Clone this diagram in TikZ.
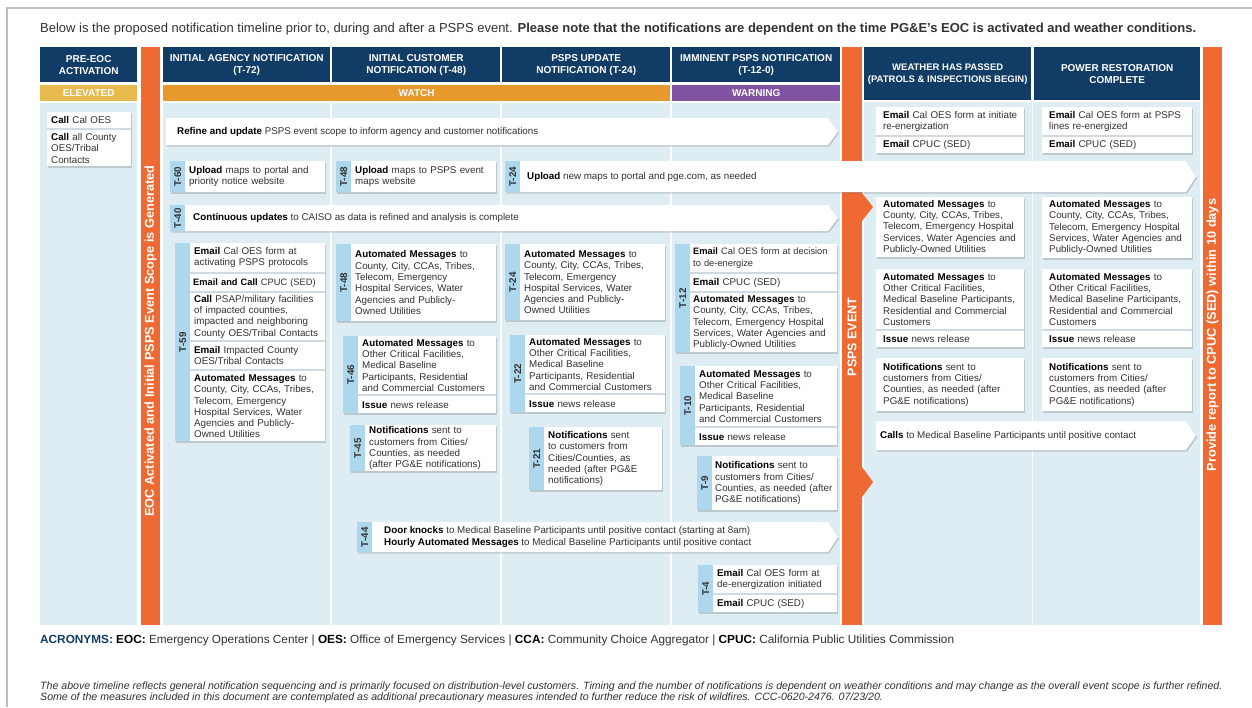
\documentclass[tikz,border=0pt]{standalone}
\usepackage{fontspec}
\setmainfont{Liberation Sans}
\usetikzlibrary{shadows}
\definecolor{blunotte}{RGB}{17,60,102}
\definecolor{arancio}{RGB}{238,106,50}
\definecolor{oro}{RGB}{232,186,78}
\definecolor{ambra}{RGB}{231,153,45}
\definecolor{viola}{RGB}{128,82,162}
\definecolor{celeste}{RGB}{222,237,243}
\definecolor{linguetta}{RGB}{172,215,236}
\definecolor{grigio}{RGB}{208,218,224}
\definecolor{testo}{RGB}{50,50,50}
\newcommand{\corpo}{\fontsize{9.8}{11.3}\selectfont}
\newcommand{\corpino}{\fontsize{9.3}{11.3}\selectfont}
\newcommand{\nero}[1]{\textbf{\color{black}#1}}
%linguetta: nome, x, y, altezza, etichetta
\newcommand{\linguetta}[5]{%
  \node[tab,minimum height=#4pt] (t#1) at (#2,#3) {};
  \node[etic] (e#1) at (t#1.center) {#5};}
%gruppo con linguetta: nome, x, y, larghezza, altezza, etichetta
\newcommand{\blocco}[6]{%
  \node[gruppo,minimum width=#4pt,minimum height=#5pt] (g#1) at (#2,#3) {};
  \linguetta{#1}{#2}{#3}{#5}{#6}}
\begin{document}
\begin{tikzpicture}[x=1pt,y=-1pt,
  ombra/.style={drop shadow={shadow xshift=1.2pt,shadow yshift=-1.5pt,opacity=.3,fill=black!55}},
  testa/.style={fill=blunotte,text=white,font=\bfseries\fontsize{10}{12}\selectfont,align=center,anchor=north west,inner sep=0pt},
  fascia/.style={text=white,font=\bfseries\fontsize{10}{12}\selectfont,anchor=north west,inner sep=0pt,minimum height=16pt},
  barratesto/.style={rotate=90,text=white,font=\bfseries\fontsize{12.8}{14}\selectfont},
  gruppo/.style={fill=grigio,anchor=north west,inner sep=0pt,ombra},
  voce/.style={fill=white,anchor=north west,inner xsep=4pt,inner ysep=1pt,align=left,text=testo,font=\corpo},
  tab/.style={fill=linguetta,anchor=north west,inner sep=0pt,minimum width=15pt},
  etic/.style={rotate=90,font=\bfseries\fontsize{9.8}{11}\selectfont,text=testo},
  freccia/.style={fill=white,ombra},
  riga/.style={anchor=west,inner sep=0pt,align=left,text=testo,font=\corpo}]
\useasboundingbox (0,0) rectangle (1252,707);
\fill[white] (0,0) rectangle (1252,707);
%cornice
\draw[black!25,line width=1.5pt] (7,707) -- (7,8) -- (1252,8);
%titolo
\node[anchor=west,inner sep=0pt,font=\fontsize{13}{15}\selectfont,text=testo] (titolo) at (40,29) {Below is the proposed notification timeline prior to, during and after a PSPS event. \textbf{Please note that the notifications are dependent on the time PG\&E's EOC is activated and weather conditions.}};

%intestazioni
\node[testa,minimum width=97pt,minimum height=35pt] (hpre) at (40,47) {PRE-EOC\\ACTIVATION};
\node[testa,minimum width=167pt,minimum height=35pt] (h72) at (163,47) {INITIAL AGENCY NOTIFICATION\\(T-72)};
\node[testa,minimum width=168pt,minimum height=35pt] (h48) at (332,47) {INITIAL CUSTOMER\\NOTIFICATION (T-48)};
\node[testa,minimum width=168pt,minimum height=35pt] (h24) at (502,47) {PSPS UPDATE\\NOTIFICATION (T-24)};
\node[testa,minimum width=168pt,minimum height=35pt] (h12) at (672,47) {IMMINENT PSPS NOTIFICATION\\(T-12-0)};
\node[testa,font=\bfseries\fontsize{9.5}{12}\selectfont,minimum width=167pt,minimum height=53pt] (hmeteo) at (864,47) {WEATHER HAS PASSED\\(PATROLS \& INSPECTIONS BEGIN)};
\node[testa,minimum width=166pt,minimum height=53pt] (hrip) at (1034,47) {POWER RESTORATION\\COMPLETE};
%fasce di allerta
\node[fascia,fill=oro,minimum width=97pt] (elev) at (40,85) {ELEVATED};
\node[fascia,fill=ambra,minimum width=507pt] (watch) at (163,85) {WATCH};
\node[fascia,fill=viola,minimum width=168pt] (warn) at (672,85) {WARNING};

%sfondo colonne
\fill[celeste] (40,103) rectangle (137,625);
\fill[celeste] (163,103) rectangle (840,625);
\fill[celeste] (864,102) rectangle (1200,625);
\foreach \x in {331,501,671} \draw[white,line width=1.5pt] (\x,103) -- (\x,625);
\draw[white,line width=1.5pt] (1032.5,102) -- (1032.5,625);

%barre arancioni
\fill[arancio] (141,47) rectangle (160,625);
\fill[arancio] (842,47) rectangle (862,625);
\fill[arancio] (862,193) -- (873,207) -- (862,221) -- cycle;
\fill[arancio] (862,467) -- (873,482) -- (862,497) -- cycle;
\fill[arancio] (1203,47) rectangle (1222,625);
\node[barratesto] (eoc) at (150.5,341) {EOC Activated and Initial PSPS Event Scope is Generated};
\node[barratesto,font=\bfseries\fontsize{12.5}{14}\selectfont] (evento) at (852,337) {PSPS EVENT};
\node[barratesto] (report) at (1212.5,335) {Provide report to CPUC (SED) within 10 days};

%colonna pre-EOC
\node[gruppo,minimum width=84pt,minimum height=54pt] (gpre) at (47,112) {};
\node[voce,text width=76pt,minimum height=16pt] (pre1) at (47,112) {\nero{Call} Cal OES};
\node[voce,text width=76pt,minimum height=36pt] (pre2) at (47,130) {\nero{Call} all County\\OES/Tribal\\Contacts};

%frecce lunghe
\path[freccia] (166,118) -- (828,118) -- (838,131.5) -- (828,145) -- (166,145) -- cycle;
\node[riga] (scope) at (177,131.5) {\nero{Refine and update} PSPS event scope to inform agency and customer notifications};
\path[freccia] (170,205) -- (828,205) -- (838,218) -- (828,231) -- (170,231) -- cycle;
\linguetta{40}{170}{205}{26}{T-40}
\node[riga] (caiso) at (193,218) {\nero{Continuous updates} to CAISO as data is refined and analysis is complete};
\path[freccia] (505,161) -- (1186,161) -- (1196,176.5) -- (1186,192) -- (505,192) -- cycle;
\linguetta{u24}{505}{161}{31}{T-24}
\node[riga] (mappe24) at (527,176.5) {\nero{Upload} new maps to portal and pge.com, as needed};
\path[freccia] (357,522) -- (828,522) -- (838,537) -- (828,552) -- (357,552) -- cycle;
\linguetta{44}{357}{522}{30}{T-44}
\node[riga] (porte) at (384,537) {\nero{Door knocks} to Medical Baseline Participants until positive contact (starting at 8am)\\\nero{Hourly Automated Messages} to Medical Baseline Participants until positive contact};
\path[freccia] (876,421) -- (1186,421) -- (1196,435.5) -- (1186,450) -- (876,450) -- cycle;
\node[riga] (chiamate) at (880,435.5) {\nero{Calls} to Medical Baseline Participants until positive contact};

%caricamento mappe
\blocco{60}{170}{161}{155}{31}{T-60}
\node[voce,text width=132pt,minimum height=31pt] (m60) at (185,161) {\nero{Upload} maps to portal and\\priority notice website};
\blocco{u48}{336}{161}{160}{31}{T-48}
\node[voce,text width=137pt,minimum height=31pt] (mu48) at (351,161) {\nero{Upload} maps to PSPS event\\maps website};

%colonna T-72
\blocco{59}{175}{243}{150}{198}{T-59}
\node[voce,text width=127pt,minimum height=29pt] (m59a) at (190,243) {\nero{Email} Cal OES form at\\activating PSPS protocols};
\node[voce,inner xsep=3pt,text width=129pt,minimum height=17pt,font=\corpino] (m59b) at (190,274) {\nero{Email and Call} CPUC (SED)};
\node[voce,text width=127pt,minimum height=47pt] (m59c) at (190,293) {\nero{Call} PSAP/military facilities\\of impacted counties,\\impacted and neighboring\\County OES/Tribal Contacts};
\node[voce,text width=127pt,minimum height=27pt] (m59d) at (190,342) {\nero{Email} Impacted County\\OES/Tribal Contacts};
\node[voce,text width=127pt,minimum height=70pt] (m59e) at (190,371) {\nero{Automated Messages} to\\County, City, CCAs, Tribes,\\Telecom, Emergency\\Hospital Services, Water\\Agencies and Publicly-\\Owned Utilities};

%colonna T-48
\blocco{a48}{336}{244}{160}{77}{T-48}
\node[voce,text width=137pt,minimum height=77pt] (ma48) at (351,244) {\nero{Automated Messages} to\\County, City, CCAs, Tribes,\\Telecom, Emergency\\Hospital Services, Water\\Agencies and Publicly-\\Owned Utilities};
\blocco{46}{343}{336}{153}{77}{T-46}
\node[voce,text width=130pt,minimum height=58pt] (m46a) at (358,336) {\nero{Automated Messages} to\\Other Critical Facilities,\\Medical Baseline\\Participants, Residential\\and Commercial Customers};
\node[voce,text width=130pt,minimum height=17pt] (m46b) at (358,396) {\nero{Issue} news release};
\blocco{45}{350}{425}{146}{46}{T-45}
\node[voce,text width=123pt,minimum height=46pt] (m45) at (365,425) {\nero{Notifications} sent to\\customers from Cities/\\Counties, as needed\\(after PG\&E notifications)};

%colonna T-24
\blocco{a24}{505}{244}{160}{76}{T-24}
\node[voce,text width=137pt,minimum height=76pt] (ma24) at (520,244) {\nero{Automated Messages} to\\County, City, CCAs, Tribes,\\Telecom, Emergency\\Hospital Services, Water\\Agencies and Publicly-\\Owned Utilities};
\blocco{22}{510}{335}{155}{77}{T-22}
\node[voce,text width=132pt,minimum height=58pt] (m22a) at (525,335) {\nero{Automated Messages} to\\Other Critical Facilities,\\Medical Baseline\\Participants, Residential\\and Commercial Customers};
\node[voce,text width=132pt,minimum height=17pt] (m22b) at (525,395) {\nero{Issue} news release};
\blocco{21}{529}{427}{133}{63}{T-21}
\node[voce,text width=110pt,minimum height=63pt] (m21) at (544,427) {\nero{Notifications} sent\\to customers from\\Cities/Counties, as\\needed (after PG\&E\\notifications)};

%colonna T-12
\blocco{12}{675}{244}{162}{108}{T-12}
\node[voce,inner xsep=3pt,text width=141pt,minimum height=28pt,font=\corpino] (m12a) at (690,244) {\nero{Email} Cal OES form at decision\\to de-energize};
\node[voce,inner xsep=3pt,text width=141pt,minimum height=17pt] (m12b) at (690,274) {\nero{Email} CPUC (SED)};
\node[voce,inner xsep=3pt,text width=141pt,minimum height=59pt] (m12c) at (690,293) {\nero{Automated Messages} to\\County, City, CCAs, Tribes,\\Telecom, Emergency Hospital\\Services, Water Agencies and\\Publicly-Owned Utilities};
\blocco{10}{680}{366}{157}{79}{T-10}
\node[voce,text width=134pt,minimum height=60pt] (m10a) at (695,366) {\nero{Automated Messages} to\\Other Critical Facilities,\\Medical Baseline\\Participants, Residential\\and Commercial Customers};
\node[voce,text width=134pt,minimum height=17pt] (m10b) at (695,428) {\nero{Issue} news release};
\blocco{9}{697}{456}{140}{54}{T-9}
\node[voce,inner xsep=3pt,text width=119pt,minimum height=54pt] (m9) at (712,456) {\nero{Notifications} sent to\\customers from Cities/\\Counties, as needed (after\\PG\&E notifications)};
\blocco{4}{698}{565}{139}{47}{T-4}
\node[voce,text width=116pt,minimum height=28pt] (m4a) at (713,565) {\nero{Email} Cal OES form at\\de-energization initiated};
\node[voce,text width=116pt,minimum height=17pt] (m4b) at (713,595) {\nero{Email} CPUC (SED)};

%colonna meteo
\node[gruppo,minimum width=148pt,minimum height=46pt] (gw1) at (876,107) {};
\node[voce,inner xsep=7pt,text width=134pt,minimum height=28pt] (w1a) at (876,107) {\nero{Email} Cal OES form at initiate\\re-energization};
\node[voce,inner xsep=7pt,text width=134pt,minimum height=16pt] (w1b) at (876,137) {\nero{Email} CPUC (SED)};
\node[gruppo,minimum width=148pt,minimum height=60pt] (gw2) at (876,197) {};
\node[voce,inner xsep=7pt,text width=134pt,minimum height=60pt] (w2) at (876,197) {\nero{Automated Messages} to\\County, City, CCAs, Tribes,\\Telecom, Emergency Hospital\\Services, Water Agencies and\\Publicly-Owned Utilities};
\node[gruppo,minimum width=148pt,minimum height=78pt] (gw3) at (876,269) {};
\node[voce,inner xsep=7pt,text width=134pt,minimum height=60pt] (w3a) at (876,269) {\nero{Automated Messages} to\\Other Critical Facilities,\\Medical Baseline Participants,\\Residential and Commercial\\Customers};
\node[voce,inner xsep=7pt,text width=134pt,minimum height=16pt] (w3b) at (876,331) {\nero{Issue} news release};
\node[gruppo,minimum width=148pt,minimum height=53pt] (gw4) at (876,358) {};
\node[voce,inner xsep=7pt,text width=134pt,minimum height=53pt] (w4) at (876,358) {\nero{Notifications} sent to\\customers from Cities/\\Counties, as needed (after\\PG\&E notifications)};

%colonna ripristino
\node[gruppo,minimum width=150pt,minimum height=46pt] (gp1) at (1042,107) {};
\node[voce,inner xsep=7pt,text width=136pt,minimum height=28pt] (p1a) at (1042,107) {\nero{Email} Cal OES form at PSPS\\lines re-energized};
\node[voce,inner xsep=7pt,text width=136pt,minimum height=16pt] (p1b) at (1042,137) {\nero{Email} CPUC (SED)};
\node[gruppo,minimum width=150pt,minimum height=61pt] (gp2) at (1042,197) {};
\node[voce,inner xsep=7pt,text width=136pt,minimum height=61pt] (p2) at (1042,197) {\nero{Automated Messages} to\\County, City, CCAs, Tribes,\\Telecom, Emergency Hospital\\Services, Water Agencies and\\Publicly-Owned Utilities};
\node[gruppo,minimum width=150pt,minimum height=78pt] (gp3) at (1042,269) {};
\node[voce,inner xsep=7pt,text width=136pt,minimum height=60pt] (p3a) at (1042,269) {\nero{Automated Messages} to\\Other Critical Facilities,\\Medical Baseline Participants,\\Residential and Commercial\\Customers};
\node[voce,inner xsep=7pt,text width=136pt,minimum height=16pt] (p3b) at (1042,331) {\nero{Issue} news release};
\node[gruppo,minimum width=150pt,minimum height=53pt] (gp4) at (1042,358) {};
\node[voce,inner xsep=7pt,text width=136pt,minimum height=53pt] (p4) at (1042,358) {\nero{Notifications} sent to\\customers from Cities/\\Counties, as needed (after\\PG\&E notifications)};

%note in basso
\node[anchor=west,inner sep=0pt,font=\fontsize{11.8}{14}\selectfont,text=testo] (acronimi) at (40,640) {\textbf{\color{blunotte}ACRONYMS:} \nero{EOC:} Emergency Operations Center | \nero{OES:} Office of Emergency Services | \nero{CCA:} Community Choice Aggregator | \nero{CPUC:} California Public Utilities Commission};
\node[anchor=north west,inner sep=0pt,align=left,font=\itshape\fontsize{10.6}{9.6}\selectfont,text=testo] (nota) at (40,682) {The above timeline reflects general notification sequencing and is primarily focused on distribution-level customers. Timing and the number of notifications is dependent on weather conditions and may change as the overall event scope is further refined.\\Some of the measures included in this document are contemplated as additional precautionary measures intended to further reduce the risk of wildfires. CCC-0620-2476. 07/23/20.};
\end{tikzpicture}
\end{document}
